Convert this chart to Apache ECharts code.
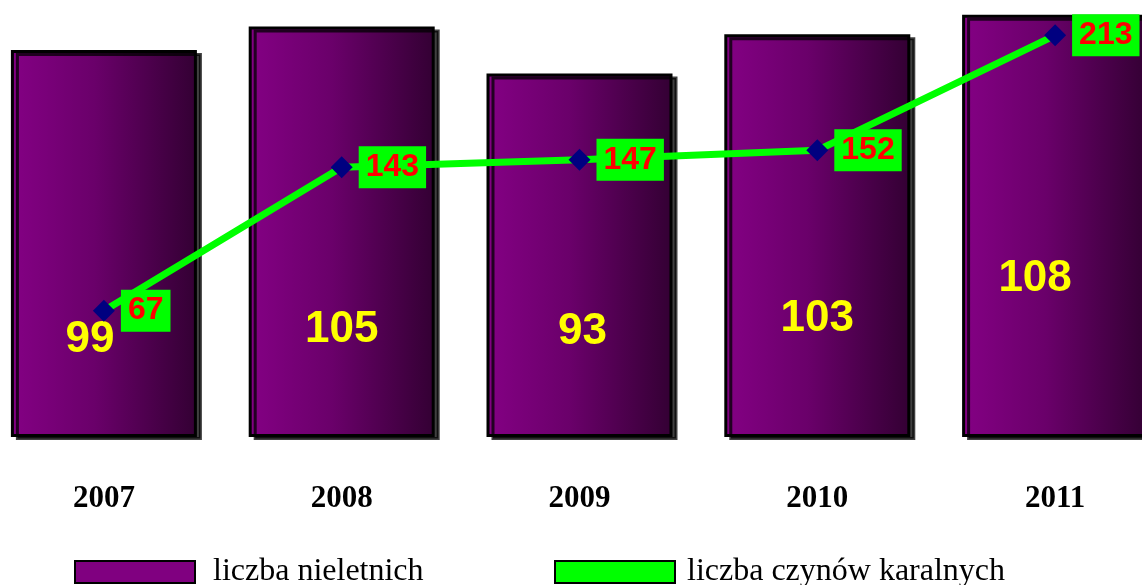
<!DOCTYPE html>
<html><head><meta charset="utf-8">
<script src="https://cdn.jsdelivr.net/npm/echarts@6/dist/echarts.min.js"></script>
<style>html,body{margin:0;padding:0;background:#fff}#c{width:1142px;height:585px}</style>
</head><body><div id="c"></div>
<script>
const years = ['2007','2008','2009','2010','2011'];
const nieletni = [99, 105, 93, 103, 108];
const czyny = [67, 143, 147, 152, 213];
const seriesNames = ['liczba nieletnich', 'liczba czynów karalnych'];
// label placement (style only): lift above bar bottom and x shift
const barLabelLift = [75, 85, 83, 96, 136];
const barLabelShiftX = [-14, 0, 3, 0, -20];

const chart = echarts.init(document.getElementById('c'));
const barData = nieletni.map((v, i) => ({
  value: v,
  label: { offset: [barLabelShiftX[i], -barLabelLift[i]] }
}));
chart.setOption({
  animation: false,
  grid: { left: -15, right: -32, top: 7, bottom: 148, containLabel: false, outerBoundsMode: 'none' },
  xAxis: {
    type: 'category', data: years,
    axisLine: { show: false }, axisTick: { show: false },
    axisLabel: { margin: 46, color: '#000', fontFamily: 'Liberation Serif', fontWeight: 'bold', fontSize: 31 }
  },
  yAxis: [
    { type: 'value', min: 0, max: 110, show: false },
    { type: 'value', min: 0, max: 228, show: false }
  ],
  legend: [
    { left: 74, top: 556, padding: 0, itemWidth: 120, itemHeight: 22, icon: 'rect',
      data: [{ name: seriesNames[0], itemStyle: { color: '#800080', borderColor: '#000', borderWidth: 2 } }],
      textStyle: { fontFamily: 'Liberation Serif', fontSize: 32, color: '#000', padding: [0, 0, 0, 13] } },
    { left: 554, top: 556, padding: 0, itemWidth: 120, itemHeight: 22, icon: 'rect',
      data: [{ name: seriesNames[1], icon: 'rect', itemStyle: { color: '#00ff00', borderColor: '#000', borderWidth: 2 } }],
      textStyle: { fontFamily: 'Liberation Serif', fontSize: 32, color: '#000', padding: [0, 0, 0, 7] } }
  ],
  series: [
    {
      name: seriesNames[0], type: 'bar', yAxisIndex: 0, barWidth: 186,
      data: barData,
      itemStyle: {
        color: new echarts.graphic.LinearGradient(0, 0, 1, 0, [
          { offset: 0, color: '#840084' },
          { offset: 0.45, color: '#6a006a' },
          { offset: 1, color: '#330033' }
        ]),
        borderColor: '#000', borderWidth: 3,
        shadowColor: 'rgba(0,0,0,0.75)', shadowOffsetX: 5, shadowOffsetY: 3, shadowBlur: 0
      },
      label: {
        show: true, position: 'insideBottom', distance: 0,
        color: '#ffff00', fontFamily: 'Liberation Sans', fontWeight: 'bold', fontSize: 44
      }
    },
    {
      name: seriesNames[1], type: 'line', yAxisIndex: 1, data: czyny,
      symbol: 'diamond', symbolSize: 22,
      itemStyle: { color: '#000080' },
      lineStyle: { color: '#00ff00', width: 7 },
      label: {
        show: true, position: 'right', distance: 6,
        color: '#ff0000', fontFamily: 'Liberation Sans', fontWeight: 'bold', fontSize: 32,
        backgroundColor: '#00ff00', padding: [5, 7, 5, 7], lineHeight: 32
      }
    }
  ]
});
</script></body></html>
